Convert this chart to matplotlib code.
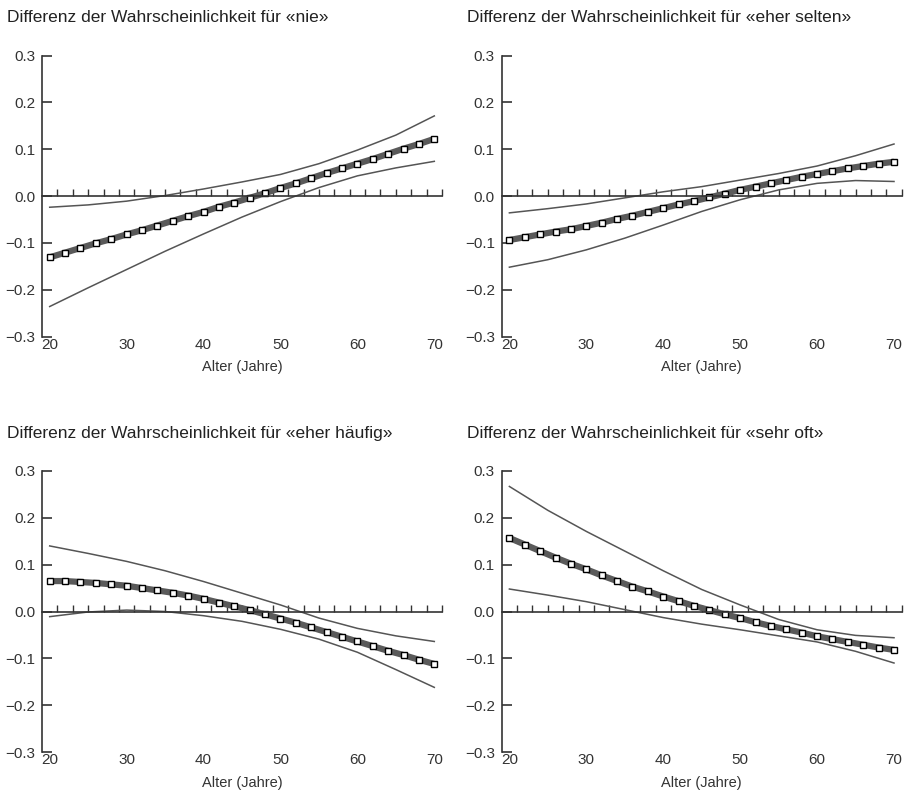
import matplotlib
matplotlib.use('Agg')
import matplotlib.pyplot as plt

plt.rcParams['font.family'] = ['Liberation Sans Narrow', 'Liberation Sans', 'DejaVu Sans']

# Alter (Jahre) der Punkte und der Konfidenzbänder
alter = [20, 22, 24, 26, 28, 30, 32, 34, 36, 38, 40, 42, 44, 46, 48,
         50, 52, 54, 56, 58, 60, 62, 64, 66, 68, 70]
alter_ci = [20, 25, 30, 35, 40, 45, 50, 55, 60, 65, 70]

titel = ['Differenz der Wahrscheinlichkeit für «nie»',
         'Differenz der Wahrscheinlichkeit für «eher selten»',
         'Differenz der Wahrscheinlichkeit für «eher häufig»',
         'Differenz der Wahrscheinlichkeit für «sehr oft»']

# «nie»
nie = [-0.131, -0.121, -0.111, -0.101, -0.092, -0.082, -0.073, -0.063, -0.053,
       -0.043, -0.034, -0.023, -0.014, -0.004, 0.006, 0.017, 0.027, 0.038,
       0.049, 0.059, 0.069, 0.079, 0.090, 0.101, 0.111, 0.122]
nie_oben = [-0.024, -0.019, -0.011, 0.001, 0.015, 0.030, 0.046, 0.069, 0.098, 0.130, 0.171]
nie_unten = [-0.236, -0.196, -0.157, -0.118, -0.081, -0.045, -0.012, 0.018, 0.043, 0.060, 0.074]

# «eher selten»
selten = [-0.094, -0.088, -0.082, -0.076, -0.071, -0.064, -0.057, -0.049, -0.042,
          -0.034, -0.026, -0.018, -0.011, -0.003, 0.005, 0.013, 0.020, 0.027,
          0.034, 0.041, 0.047, 0.053, 0.059, 0.064, 0.069, 0.073]
selten_oben = [-0.036, -0.027, -0.017, -0.004, 0.009, 0.020, 0.034, 0.048, 0.064, 0.086, 0.111]
selten_unten = [-0.152, -0.136, -0.115, -0.090, -0.062, -0.033, -0.008, 0.013, 0.027, 0.033, 0.031]

# «eher häufig»
haeufig = [0.065, 0.065, 0.063, 0.061, 0.058, 0.055, 0.050, 0.045, 0.040,
           0.034, 0.027, 0.019, 0.011, 0.003, -0.006, -0.015, -0.024, -0.034,
           -0.044, -0.054, -0.064, -0.074, -0.084, -0.093, -0.103, -0.112]
haeufig_oben = [0.140, 0.124, 0.107, 0.087, 0.064, 0.039, 0.014, -0.014, -0.036, -0.052, -0.064]
haeufig_unten = [-0.011, -0.001, 0.003, 0.000, -0.009, -0.021, -0.038, -0.059, -0.087, -0.124, -0.162]

# «sehr oft»
oft = [0.157, 0.143, 0.129, 0.115, 0.102, 0.090, 0.077, 0.065, 0.053,
       0.043, 0.032, 0.022, 0.012, 0.003, -0.006, -0.014, -0.023, -0.031,
       -0.038, -0.045, -0.053, -0.059, -0.065, -0.071, -0.077, -0.082]
oft_oben = [0.267, 0.216, 0.171, 0.129, 0.087, 0.047, 0.014, -0.017, -0.039, -0.051, -0.056]
oft_unten = [0.048, 0.035, 0.021, 0.004, -0.013, -0.027, -0.039, -0.052, -0.065, -0.085, -0.110]

werte = [nie, selten, haeufig, oft]
oben = [nie_oben, selten_oben, haeufig_oben, oft_oben]
unten = [nie_unten, selten_unten, haeufig_unten, oft_unten]

W, H = 906, 796
fig = plt.figure(figsize=(W / 100, H / 100), dpi=100)

# Achsenpositionen in Pixeln (links, oben)
pos = [(42, 55.5), (501.7, 55.5), (42, 471), (501.7, 471)]
breite, hoehe = 400, 281
titel_y = [18, 18, 433.5, 433.5]

farbe = '#333333'
for i in range(4):
    x0, y0 = pos[i]
    ax = fig.add_axes([x0 / W, 1 - (y0 + hoehe) / H, breite / W, hoehe / H])
    ax.plot(alter_ci, oben[i], color='#555555', lw=1.1)
    ax.plot(alter_ci, unten[i], color='#555555', lw=1.1)
    ax.plot(alter, werte[i], color='#5a5a5a', lw=4.5, solid_capstyle='butt',
            marker='s', ms=4.6, mfc='white', mec='black', mew=1.0)

    ax.set_xlim(19, 71)
    ax.set_ylim(-0.3, 0.3)
    ax.spines['top'].set_visible(False)
    ax.spines['right'].set_visible(False)
    ax.spines['left'].set_color(farbe)
    ax.spines['left'].set_linewidth(1.2)
    ax.spines['bottom'].set_position(('data', 0))
    ax.spines['bottom'].set_color(farbe)
    ax.spines['bottom'].set_linewidth(1.2)

    ax.set_yticks([-0.3, -0.2, -0.1, 0.0, 0.1, 0.2, 0.3])
    ax.set_yticklabels(['\u22120.3', '\u22120.2', '\u22120.1', '0.0', '0.1', '0.2', '0.3'])
    ax.tick_params(axis='y', direction='in', length=7, width=1.2, color=farbe,
                   labelsize=11, labelcolor=farbe, pad=5)

    ax.set_xticks(list(range(21, 72, 2)))
    ax.tick_params(axis='x', direction='in', length=5, width=1.0, color=farbe,
                   labelbottom=False)

    sec = ax.secondary_xaxis('bottom')
    sec.spines['bottom'].set_visible(False)
    sec.set_xticks([20, 30, 40, 50, 60, 70])
    sec.tick_params(length=0, labelsize=11, labelcolor=farbe, pad=1)
    sec.set_xlabel('Alter (Jahre)', fontsize=10.5, color=farbe, labelpad=6)

    fig.text((x0 - 35) / W, 1 - titel_y[i] / H, titel[i], fontsize=12.5,
             color='#222222', va='center', ha='left')

fig.savefig('out.png', dpi=100)
